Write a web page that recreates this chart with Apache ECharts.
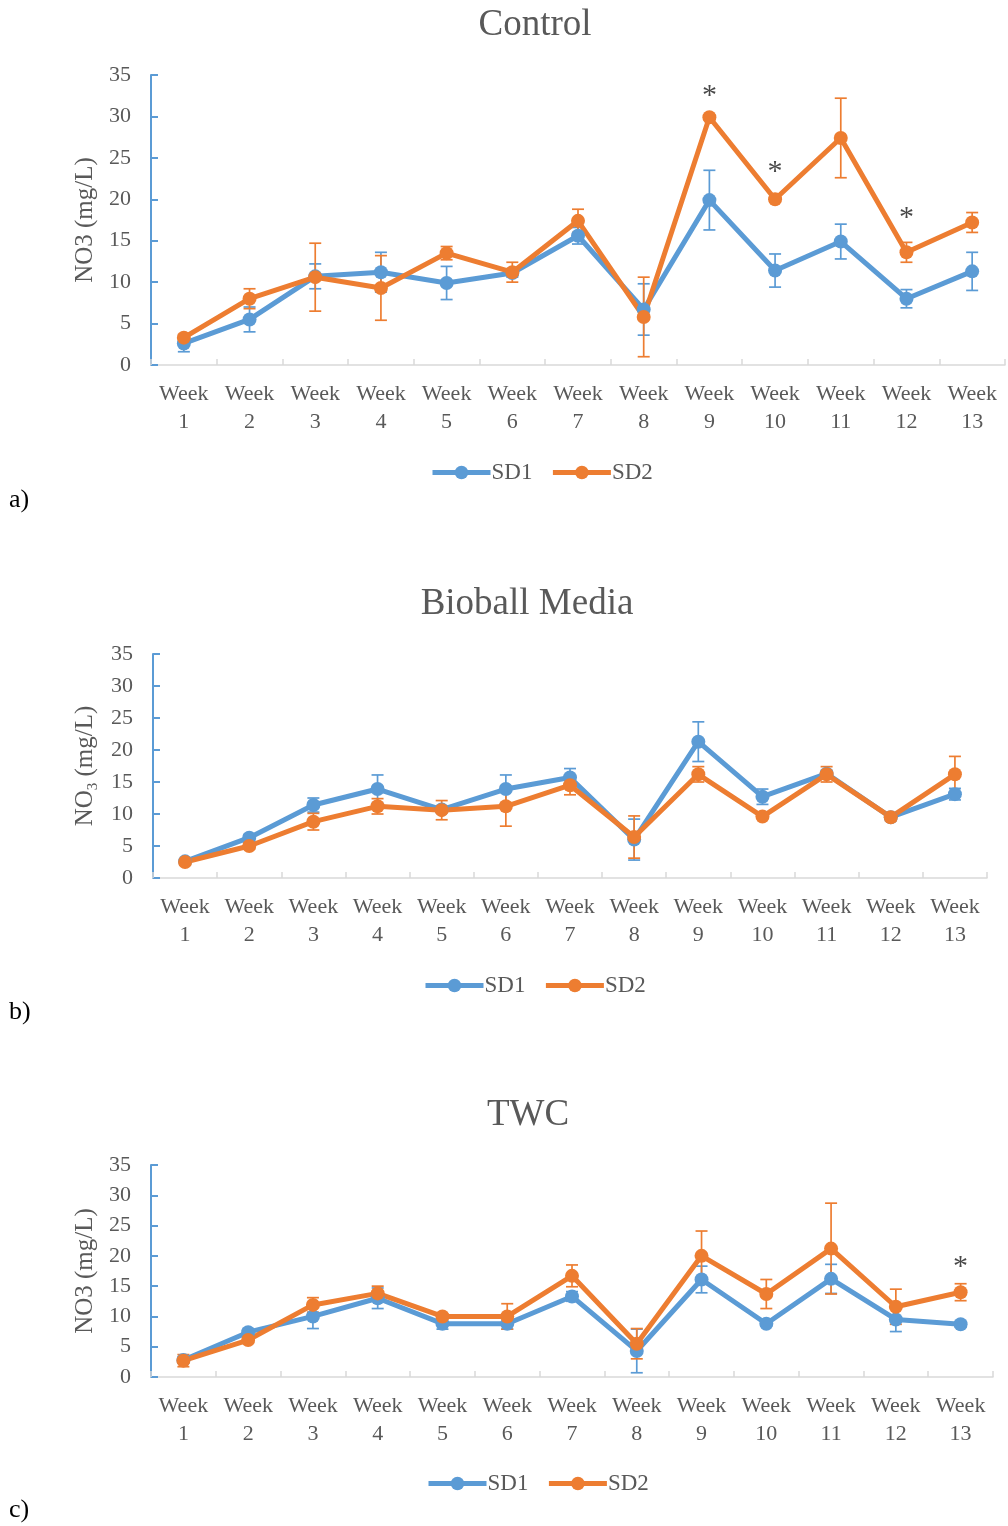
<!DOCTYPE html>
<html>
<head>
<meta charset="utf-8">
<title>NO3 by week</title>
<script src="https://cdn.jsdelivr.net/npm/echarts@6/dist/echarts.min.js"></script>
<style>
  html, body { margin: 0; padding: 0; background: #ffffff; }
  #chart { width: 1008px; height: 1526px; }
</style>
</head>
<body>
<div id="chart"></div>
<script>
// Week categories shared by all three panels
const weeks = ['Week 1', 'Week 2', 'Week 3', 'Week 4', 'Week 5', 'Week 6', 'Week 7',
               'Week 8', 'Week 9', 'Week 10', 'Week 11', 'Week 12', 'Week 13'];
const yTicks = [0, 5, 10, 15, 20, 25, 30, 35];

// a) Control
const controlSD1    = [2.6, 5.5, 10.7, 11.2, 9.9, 11.1, 15.6, 6.7, 19.9, 11.4, 14.9, 8.0, 11.3];
const controlSD1Err = [1.0, 1.5, 1.5, 2.4, 2.0, 0.5, 1.0, 3.1, 3.6, 2.0, 2.1, 1.1, 2.3];
const controlSD2    = [3.3, 8.0, 10.6, 9.3, 13.5, 11.2, 17.4, 5.8, 29.9, 20.0, 27.4, 13.6, 17.2];
const controlSD2Err = [0.4, 1.2, 4.1, 3.9, 0.8, 1.2, 1.4, 4.8, 0.3, 0.3, 4.8, 1.2, 1.2];
const controlStars  = [[8, 33.1], [9, 23.9], [11, 18.3]];

// b) Bioball Media
const bioballSD1    = [2.6, 6.3, 11.4, 13.9, 10.7, 13.9, 15.7, 6.0, 21.3, 12.7, 16.3, 9.5, 13.1];
const bioballSD1Err = [0.4, 0.5, 1.1, 2.2, 0.5, 2.2, 1.4, 3.2, 3.1, 1.2, 0.5, 0.4, 0.9];
const bioballSD2    = [2.5, 5.0, 8.8, 11.2, 10.6, 11.2, 14.5, 6.4, 16.2, 9.6, 16.2, 9.5, 16.2];
const bioballSD2Err = [0.5, 0.5, 1.3, 1.2, 1.5, 3.1, 1.5, 3.3, 1.2, 0.3, 1.2, 0.6, 2.8];
const bioballStars  = [];

// c) TWC
const twcSD1    = [2.8, 7.4, 10.0, 13.0, 8.8, 8.8, 13.3, 4.3, 16.1, 8.8, 16.2, 9.5, 8.7];
const twcSD1Err = [0.5, 0.5, 2.0, 1.7, 0.9, 0.9, 0.8, 3.6, 2.2, 0.4, 2.4, 2.0, 0.5];
const twcSD2    = [2.7, 6.1, 11.9, 13.8, 10.0, 10.0, 16.7, 5.5, 20.0, 13.7, 21.2, 11.6, 14.0];
const twcSD2Err = [1.0, 0.4, 1.2, 1.2, 0.4, 2.1, 1.8, 2.5, 4.1, 2.4, 7.5, 2.9, 1.4];
const twcStars  = [[12, 19.0]];

const BLUE = '#5B9BD5';
const ORANGE = '#ED7D31';
const GREY_TEXT = '#595959';
const FONT = '"Liberation Serif", "Times New Roman", serif';

const panels = [
  { title: 'Control', tag: 'a)', sd1: controlSD1, sd1Err: controlSD1Err, sd2: controlSD2, sd2Err: controlSD2Err, stars: controlStars,
    yName: 'NO3 (mg/L)',
    grid: { left: 151, top: 75, width: 854, height: 290 },
    titlePos: { x: 530, y: 2 }, legendPos: { x: 425, y: 456 }, tagPos: { x: 9, y: 487 } },
  { title: 'Bioball Media', tag: 'b)', sd1: bioballSD1, sd1Err: bioballSD1Err, sd2: bioballSD2, sd2Err: bioballSD2Err, stars: bioballStars,
    yName: 'NO{sub|3} (mg/L)',
    grid: { left: 153, top: 654, width: 834, height: 224 },
    titlePos: { x: 522, y: 581 }, legendPos: { x: 418, y: 969 }, tagPos: { x: 9, y: 999 } },
  { title: 'TWC', tag: 'c)', sd1: twcSD1, sd1Err: twcSD1Err, sd2: twcSD2, sd2Err: twcSD2Err, stars: twcStars,
    yName: 'NO3 (mg/L)',
    grid: { left: 151, top: 1165, width: 842, height: 212 },
    titlePos: { x: 523, y: 1092 }, legendPos: { x: 421, y: 1467 }, tagPos: { x: 9, y: 1497 } }
];

// Vertical error bar with end caps: data item = [categoryIndex, low, high]
function errorBarRenderer(color) {
  return function (params, api) {
    const x = api.value(0);
    const lo = api.coord([x, api.value(1)]);
    const hi = api.coord([x, api.value(2)]);
    const half = 6;
    const style = { stroke: color, lineWidth: 1.7 };
    return {
      type: 'group',
      children: [
        { type: 'line', shape: { x1: lo[0], y1: lo[1], x2: hi[0], y2: hi[1] }, style },
        { type: 'line', shape: { x1: hi[0] - half, y1: hi[1], x2: hi[0] + half, y2: hi[1] }, style },
        { type: 'line', shape: { x1: lo[0] - half, y1: lo[1], x2: lo[0] + half, y2: lo[1] }, style }
      ]
    };
  };
}

const option = {
  animation: false,
  backgroundColor: '#ffffff',
  title: [], legend: [], grid: [], xAxis: [], yAxis: [], series: [], graphic: []
};

panels.forEach((p, i) => {
  option.title.push({
    text: p.title, left: p.titlePos.x, top: p.titlePos.y, textAlign: 'center',
    textStyle: { fontFamily: FONT, fontSize: 37, fontWeight: 'normal', color: GREY_TEXT }
  });
  option.legend.push({
    data: ['SD1', 'SD2'], left: p.legendPos.x, top: p.legendPos.y, orient: 'horizontal',
    itemWidth: 58, itemHeight: 17, itemGap: 18,
    lineStyle: { width: 5 },
    textStyle: { fontFamily: FONT, fontSize: 23, color: GREY_TEXT, padding: [0, 0, 0, -4] },
    selectedMode: false
  });
  option.grid.push(Object.assign({ containLabel: false }, p.grid));
  option.xAxis.push({
    type: 'category', gridIndex: i, data: weeks, boundaryGap: true,
    axisLine: { show: true, lineStyle: { color: '#D9D9D9', width: 1.5 } },
    axisTick: { show: true, inside: true, length: 6, lineStyle: { color: '#D9D9D9', width: 1.5 } },
    axisLabel: {
      interval: 0, margin: 15, fontFamily: FONT, fontSize: 22, lineHeight: 28, color: GREY_TEXT,
      formatter: v => v.replace(' ', '\n')
    },
    splitLine: { show: false }
  });
  option.yAxis.push({
    type: 'value', gridIndex: i, min: yTicks[0], max: yTicks[yTicks.length - 1], interval: yTicks[1] - yTicks[0],
    name: p.yName, nameLocation: 'middle', nameGap: 52, nameRotate: 90,
    nameTextStyle: {
      fontFamily: FONT, fontSize: 25, color: GREY_TEXT,
      rich: { sub: { fontFamily: FONT, fontSize: 15, color: GREY_TEXT, verticalAlign: 'bottom', lineHeight: 30 } }
    },
    axisLine: { show: true, lineStyle: { color: BLUE, width: 2 } },
    axisTick: { show: true, inside: true, length: 7, lineStyle: { color: BLUE, width: 2 } },
    axisLabel: { margin: 20, fontFamily: FONT, fontSize: 22, color: GREY_TEXT },
    splitLine: { show: false }
  });

  const pairs = [
    { name: 'SD1', color: BLUE, vals: p.sd1, errs: p.sd1Err },
    { name: 'SD2', color: ORANGE, vals: p.sd2, errs: p.sd2Err }
  ];
  pairs.forEach(s => {
    option.series.push({
      name: s.name + ' error', type: 'custom', xAxisIndex: i, yAxisIndex: i,
      renderItem: errorBarRenderer(s.color),
      data: s.vals.map((v, k) => [k, v - s.errs[k], v + s.errs[k]]),
      encode: { x: 0, y: [1, 2] }, silent: true, z: 2
    });
    option.series.push({
      name: s.name, type: 'line', xAxisIndex: i, yAxisIndex: i, data: s.vals,
      symbol: 'circle', symbolSize: 14, showSymbol: true,
      lineStyle: { color: s.color, width: 5 }, itemStyle: { color: s.color },
      emphasis: { disabled: true }, z: 2
    });
  });

  if (p.stars.length) {
    option.series.push({
      name: 'significance', type: 'scatter', xAxisIndex: i, yAxisIndex: i, data: p.stars,
      symbolSize: 0, silent: true, z: 5,
      label: {
        show: true, position: 'inside', formatter: '*', offset: [0, 5],
        fontFamily: FONT, fontSize: 30, color: '#1a1a1a'
      }
    });
  }

  option.graphic.push({
    type: 'text', left: p.tagPos.x, top: p.tagPos.y,
    style: { text: p.tag, font: '26px ' + FONT, fill: '#000000' }
  });
});

const chart = echarts.init(document.getElementById('chart'), null, { renderer: 'canvas' });
chart.setOption(option);
</script>
</body>
</html>
